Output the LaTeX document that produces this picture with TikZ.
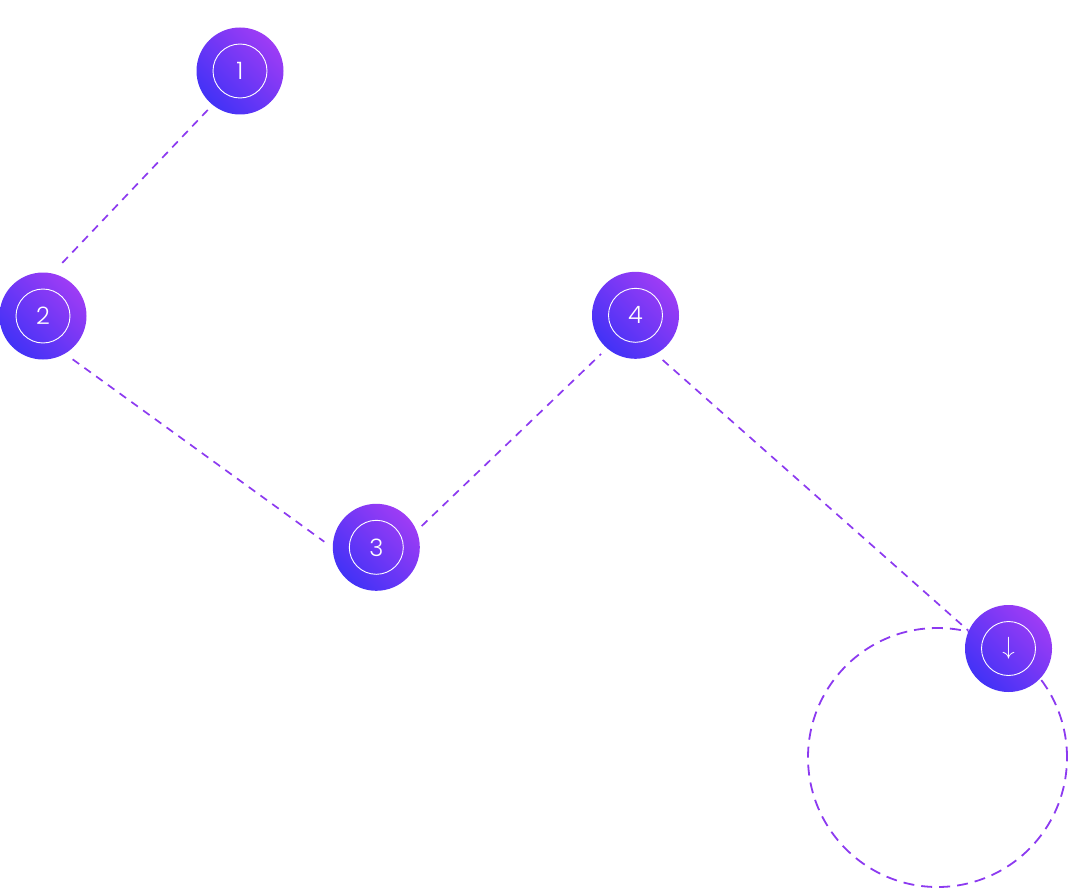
\documentclass[tikz,border=0pt]{standalone}
\usepackage{fontspec}
\newfontfamily\lab{Poppins Light}
\definecolor{gblue}{RGB}{66,50,246}
\definecolor{gpurple}{RGB}{158,60,245}
\definecolor{dashc}{RGB}{140,58,240}
\begin{document}
\begin{tikzpicture}[x=1pt,y=-1pt,
  stepnode/.style={circle, minimum size=87pt, inner sep=0pt,
    top color=gpurple, bottom color=gblue, shading angle=-45,
    text=white, font=\lab\fontsize{24}{24}\selectfont,
    path picture={\draw[white, line width=0.9pt] (path picture bounding box.center) circle (27pt);}},
  link/.style={dashc, line width=1.7pt, dash pattern=on 8pt off 6.5pt},
  bigring/.style={circle, minimum size=259pt, inner sep=0pt, draw=dashc, line width=1.8pt, dash pattern=on 11pt off 7pt}]
\useasboundingbox (0,0) rectangle (1068,888);
\node[bigring] (ring) at (937.5,757.5) {};
\node[stepnode] (n1) at (240,71) {1};
\node[stepnode] (n2) at (43,316) {2};
\node[stepnode] (n3) at (376.3,547.3) {3};
\node[stepnode] (n4) at (635.5,315.3) {4};
\node[stepnode] (n5) at (1008.5,648.5) {};
\node[text=white, font=\fontsize{26}{26}\selectfont] (arr) at (n5.center) {$\downarrow$};
\draw[link] ([shift={(129.6:50.6)}]n1.center) -- ([shift={(-71.9:52.6)}]n2.center);
\draw[link] ([shift={(55.6:52.5)}]n2.center) -- ([shift={(-173.9:52.3)}]n3.center);
\draw[link] ([shift={(-25.1:50.1)}]n3.center) -- ([shift={(131.7:51.8)}]n4.center);
\draw[link] ([shift={(58.7:52.3)}]n4.center) -- ([shift={(-156:44)}]n5.center);
\end{tikzpicture}
\end{document}
